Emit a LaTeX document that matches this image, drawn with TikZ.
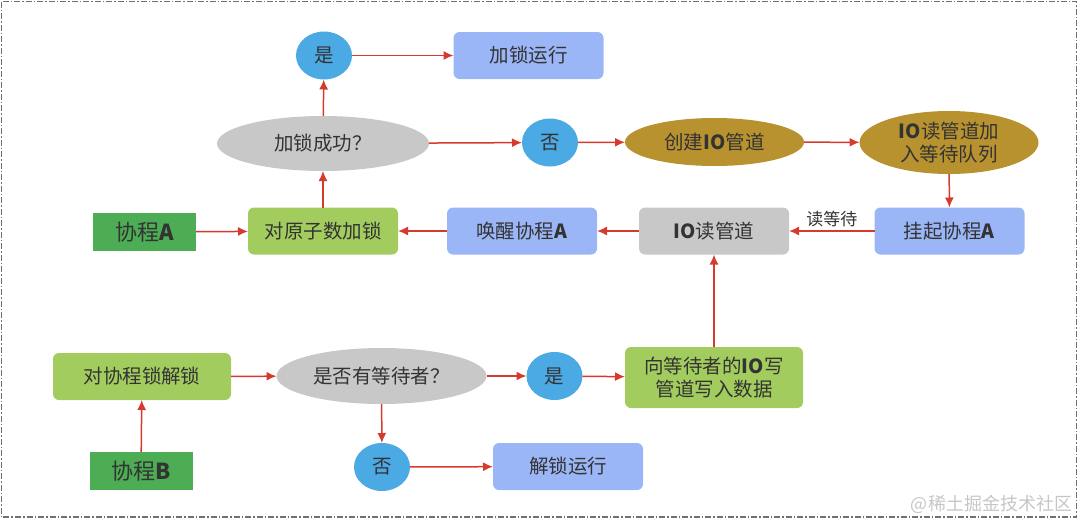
\documentclass[tikz,border=0pt]{standalone}
\usepackage{fontspec}
\setmainfont{Noto Sans CJK SC}
\usetikzlibrary{shapes.geometric,arrows.meta}
\definecolor{flow color}{HTML}{D63A2C}
\definecolor{text color}{HTML}{333333}
\definecolor{answer color}{HTML}{4BA9E3}
\definecolor{run color}{HTML}{9BB6F7}
\definecolor{query color}{HTML}{C8C8C8}
\definecolor{pipe color}{HTML}{B8922F}
\definecolor{lock color}{HTML}{A2CD5E}
\definecolor{thread color}{HTML}{4CAD55}
\definecolor{frame color}{HTML}{707070}
\tikzset{
    x={1pt},
    y={-1pt},
    base node/.style={
        inner sep=0pt, outer sep=0pt,
        align=center,
        text=text color,
        font={\fontsize{19.5}{23}\selectfont},
    },
    thread box/.style={
        base node, rectangle, fill=thread color,
        minimum width={103}, minimum height={38},
        font={\fontsize{22}{26}\selectfont},
    },
    action box/.style={
        base node, rectangle, rounded corners={6pt}, fill={#1},
        minimum width={150}, minimum height={47},
    },
    action box/.default={run color},
    decision/.style={
        base node, ellipse, fill=query color,
        minimum width={212}, minimum height={55},
    },
    answer/.style={
        base node, ellipse, fill=answer color,
        minimum width={56}, minimum height={48},
    },
    pipe stage/.style={
        base node, ellipse, fill=pipe color,
        minimum width={179}, minimum height={48},
    },
    flow/.style={
        draw=flow color,
        line width={1.5pt},
        -{Latex[length=10pt,width=9pt]},
    },
    wait label/.style={
        base node, font={\fontsize{17}{20}\selectfont},
        above=4pt,
    },
}

\begin{document}
\begin{tikzpicture}
\useasboundingbox (0,0) rectangle (1080,520);
% frame
\draw[frame color, line width={1.2pt}, dash pattern=on 6pt off 2pt on 1.5pt off 2pt]
    (1.5,1.5) rectangle (1076.5,517);
% coroutine A: locking
\node[thread box] (coA) at (144.5,232) {协程\textbf{A}};
\node[action box=lock color] (atomic) at (323,231) {对原子数加锁};
\node[decision] (locked) at (323,143.5) {加锁成功？};
\node[answer] (yesA) at (324,55.5) {是};
\node[action box] (runlock) at (528.5,55.5) {加锁运行};
\node[answer] (noA) at (550,142.5) {否};
\node[pipe stage] (mkpipe) at (714.5,142) {创建\textbf{IO}管道};
\node[pipe stage, minimum height={63}, text width={106}] (enqueue) at (949,142.5) {\textbf{IO}读管道加\\入等待队列};
\node[action box] (suspend) at (949.5,231) {挂起协程\textbf{A}};
\node[action box=query color] (readpipe) at (714,231) {\textbf{IO}读管道};
\node[action box] (wake) at (522,231) {唤醒协程\textbf{A}};
% coroutine B: unlocking
\node[thread box] (coB) at (141,471) {协程\textbf{B}};
\node[action box=lock color, minimum width={178}] (unlock) at (142,376.5) {对协程锁解锁};
\node[decision, minimum width={210}, minimum height={56}] (waiters) at (381.5,376) {是否有等待者？};
\node[answer] (yesB) at (554.5,376) {是};
\node[action box=lock color, minimum width={178}, minimum height={61}] (write) at (714,377.5) {向等待者的\textbf{IO}写\\管道写入数据};
\node[answer] (noB) at (382,467) {否};
\node[action box] (rununlock) at (568,466.5) {解锁运行};
% watermark
\node[base node, anchor=east, text=gray!45, font={\fontsize{18}{20}\selectfont}] (mark) at (1072,504) {@稀土掘金技术社区};
% connectors
\draw[flow] (coA) -- (atomic);
\draw[flow] (atomic) -- (locked);
\draw[flow] (locked) -- (yesA);
\draw[flow] (yesA) -- (runlock);
\draw[flow] (locked) -- (noA);
\draw[flow] (noA) -- (mkpipe);
\draw[flow] (mkpipe) -- (enqueue);
\draw[flow] (enqueue) -- (suspend);
\draw[flow] (suspend) -- node[wait label] (waitread) {读等待} (readpipe);
\draw[flow] (readpipe) -- (wake);
\draw[flow] (wake) -- (atomic);
\draw[flow] (coB) -- (unlock);
\draw[flow] (unlock) -- (waiters);
\draw[flow] (waiters) -- (yesB);
\draw[flow] (yesB) -- (write);
\draw[flow] (write) -- (readpipe);
\draw[flow] (waiters) -- (noB);
\draw[flow] (noB) -- (rununlock);
\end{tikzpicture}
\end{document}
